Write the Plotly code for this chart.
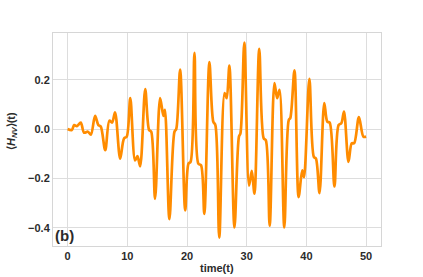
import plotly.graph_objects as go

# time samples (key points)
t = [0.0, 0.7, 1.1, 1.55, 2.2, 2.75, 3.4, 3.9, 4.6, 5.15, 5.55, 6.3, 7.0, 7.45, 7.95,
     8.8, 9.45, 9.9, 10.5, 11.3, 11.7, 12.15, 13.0, 13.65, 14.0, 14.65, 15.5, 16.05,
     16.3, 17.05, 17.9, 18.2, 18.85, 19.7, 20.25, 20.6, 21.25, 21.9, 22.35, 22.9,
     23.75, 24.4, 24.75, 25.4, 26.3, 26.65, 27.1, 27.95, 28.7, 28.95, 29.6, 30.4,
     30.85, 31.3, 32.1, 32.85, 33.2, 33.85, 34.65, 35.1, 35.5, 36.3, 37.05, 37.3,
     38.0, 38.7, 39.3, 39.6, 40.5, 41.25, 41.6, 42.2, 43.0, 43.5, 43.9, 44.7, 45.4,
     45.85, 46.3, 47.05, 47.6, 48.0, 48.8, 49.55, 50.0]
# <H_NV>(t) values
h_nv = [0.0, -0.004, 0.016, 0.012, 0.026, -0.015, -0.011, -0.023, 0.053, 0.016, 0.01,
        -0.086, 0.034, 0.026, 0.067, -0.12, -0.038, -0.031, 0.125, -0.127, -0.11,
        -0.151, 0.162, -0.004, -0.011, -0.283, 0.125, 0.053, 0.078, -0.365, -0.011,
        0.0, 0.241, -0.33, -0.14, -0.133, 0.309, -0.14, -0.147, -0.344, 0.271, 0.03,
        0.016, -0.44, 0.146, 0.125, 0.257, -0.399, -0.031, -0.018, 0.35, -0.229,
        -0.17, -0.262, 0.325, -0.038, -0.045, -0.392, 0.186, 0.125, 0.159, -0.399,
        0.037, 0.044, 0.238, -0.276, -0.167, -0.195, 0.203, -0.113, -0.12, -0.26,
        0.105, 0.03, 0.026, -0.233, 0.016, 0.023, 0.071, -0.133, -0.058, -0.058,
        0.048, -0.031, -0.031]

x_ticks = [0, 10, 20, 30, 40, 50]
y_ticks = [-0.4, -0.2, 0.0, 0.2]
y_tick_labels = ["\u22120.4", "\u22120.2", "0.0", "0.2"]

fig = go.Figure()
fig.add_trace(go.Scatter(
    x=t, y=h_nv, mode="lines",
    line=dict(color="#ff8c00", width=2.7, shape="spline", smoothing=0.9),
    showlegend=False, hoverinfo="skip"))

axis_common = dict(
    showgrid=True, gridcolor="#dddddd", gridwidth=1,
    showline=True, linecolor="#d6d6d6", linewidth=1, mirror=True,
    zeroline=False, ticks="",
    tickfont=dict(family="Liberation Sans, Arial, sans-serif", size=11,
                  color="#2b2b2b", weight="bold"),
)

fig.update_layout(
    width=423, height=277,
    margin=dict(l=53, r=42, t=33, b=31),
    paper_bgcolor="white", plot_bgcolor="white",
    xaxis=dict(range=[-2.45, 52.5], tickvals=x_ticks, **axis_common),
    yaxis=dict(range=[-0.474, 0.389], tickvals=y_ticks, ticktext=y_tick_labels,
               **axis_common),
    font=dict(family="Liberation Sans, Arial, sans-serif", color="#2b2b2b"),
)

fig.add_annotation(text="time(t)", xref="paper", yref="paper", x=0.5, y=-0.103,
                   xanchor="center", yanchor="middle", showarrow=False,
                   font=dict(size=11, weight="bold", color="#2b2b2b"))
fig.add_annotation(text="\u27e8<i>H<sub>NV</sub></i>\u27e9(t)", xref="paper", yref="paper",
                   x=-0.125, y=0.54, textangle=-90, xanchor="center", yanchor="middle",
                   showarrow=False, font=dict(size=11, weight="bold", color="#2b2b2b"))
fig.add_annotation(text="(b)", xref="paper", yref="paper", x=0.0, y=0.0,
                   xanchor="left", yanchor="bottom", showarrow=False,
                   font=dict(size=15, weight="bold", color="#2b2b2b"))

fig.write_html("out.html", config={"displayModeBar": False},
               post_script="document.body.style.margin='0';document.body.style.overflow='hidden';")
